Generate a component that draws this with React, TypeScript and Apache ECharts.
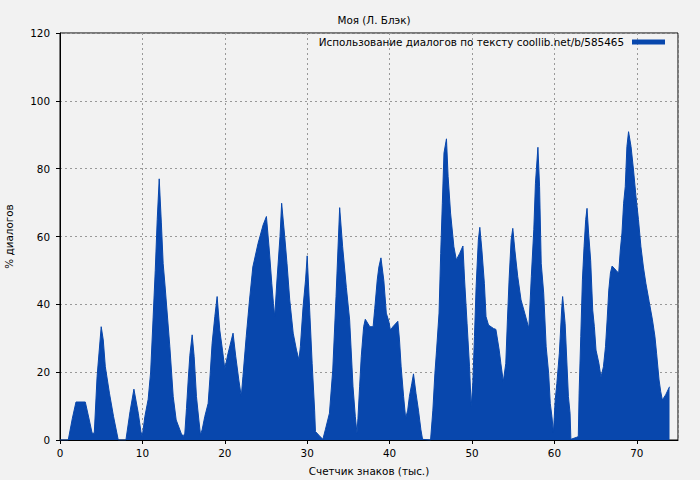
import React, { useEffect, useRef } from "react";
import * as echarts from "echarts";

const titleText = "Моя (Л. Блэк)";
const seriesName = "Использование диалогов по тексту coollib.net/b/585465";
const xAxisName = "Счетчик знаков (тыс.)";
const yAxisName = "% диалогов";

const xs = [
  0, 1.0, 1.5, 1.94, 3.07, 3.5, 3.9, 4.16, 4.5, 5.0, 5.25, 5.5, 6.0, 6.5, 7.07, 8.0, 8.5, 8.97, 9.5, 9.82,
  9.98, 10.3, 10.7, 11.0, 11.3, 11.56, 11.8, 12.04, 12.3, 12.52, 12.73, 13.33, 13.74, 14.1, 14.7, 14.95,
  15.15, 15.35, 15.56, 15.76, 16.04, 16.28, 16.56, 16.85, 17.05, 17.25, 17.57, 17.98, 18.18, 18.46, 18.79,
  19.07, 19.39, 19.72, 20.0, 20.4, 21.0, 21.33, 21.7, 22.0, 22.2, 22.6, 23.0, 23.4, 24.04, 24.65, 25.05,
  25.4, 25.7, 25.9, 26.06, 26.3, 26.7, 26.9, 27.27, 27.55, 27.88, 28.3, 28.7, 29.0, 29.17, 29.5, 29.8, 30.0,
  30.3, 30.6, 30.9, 31.0, 31.5, 31.9, 32.2, 32.7, 33.1, 33.5, 33.94, 34.3, 34.75, 35.15, 35.56, 35.84,
  36.04, 36.16, 36.36, 36.56, 36.85, 37.05, 37.6, 38.0, 38.2, 38.5, 38.7, 38.95, 39.3, 39.6, 39.9, 40.1,
  40.4, 41.0, 41.2, 41.4, 41.7, 41.95, 42.2, 42.4, 42.7, 42.9, 43.2, 43.5, 43.8, 44.0, 44.97, 45.25, 45.5,
  45.7, 46.0, 46.2, 46.4, 46.6, 46.9, 47.1, 47.4, 47.8, 48.1, 48.5, 48.9, 49.1, 49.4, 49.7, 49.9, 50.1,
  50.3, 50.5, 50.77, 50.95, 51.2, 51.5, 51.7, 52.0, 52.6, 52.9, 53.3, 53.5, 53.8, 54.1, 54.3, 54.5, 54.75,
  54.95, 55.2, 55.55, 55.95, 56.4, 56.9, 57.2, 57.5, 57.7, 58.0, 58.2, 58.4, 58.7, 59.0, 59.3, 59.5, 59.7,
  59.88, 60.1, 60.3, 60.6, 60.9, 61.0, 61.3, 61.5, 61.7, 61.9, 62.0, 62.7, 62.9, 63.0, 63.2, 63.4, 63.6,
  63.8, 63.96, 64.15, 64.4, 64.65, 64.85, 65.05, 65.4, 65.65, 65.95, 66.2, 66.4, 66.6, 66.8, 67.0, 67.5,
  67.8, 68.0, 68.2, 68.4, 68.6, 68.8, 69.0, 69.3, 69.6, 69.9, 70.2, 70.5, 70.8, 71.1, 71.5, 71.9, 72.2,
  72.4, 72.7, 72.9, 73.1, 73.5, 73.97,
];

const ys = [
  0, 0, 6.4, 11.2, 11.2, 6.5, 2, 2, 18.7, 33.4, 29.5, 21.6, 13.8, 6.9, 0, 0, 8.4, 15, 7.9, 2.5,
  1, 6.9, 12, 20, 36, 50, 65, 77, 64, 52, 46, 27.5, 12.8, 5.9, 2, 1,
  2, 9.3, 17.7, 25, 31, 24.6, 12.8, 5.9, 1.5, 3, 6.9, 10.8, 17.7, 28.5, 36.4,
  42.3, 32.4, 26.5, 21, 25.6, 31.5, 24.6, 17.7, 12.8, 18.7, 30.5, 41.3, 51, 58, 63.4, 65.9,
  56, 46.2, 40.3, 36.4, 46, 60, 69.8, 60, 52, 41.3, 31.5, 26.5, 23.6, 27.5, 39.3, 47.2, 54.3,
  38.3, 22.6, 8.8, 2.5, 1.2, 0.2, 3, 7.9, 20.6, 42.3, 68.5, 57, 45, 35.4, 15.7, 6.9,
  2, 6.4, 15.7, 24.6, 33.4, 35.6, 33.4, 33.4, 38.8, 47.2, 51, 53.7, 47, 37.4, 35, 32.4,
  33.4, 35, 29.5, 21.6, 12.8, 6.4, 8.8, 12.8, 16.7, 19.5, 13.8, 8.8, 3, 0.2, 0, 8.8, 19.7,
  26.5, 37.4, 55, 69.8, 84.6, 88.8, 77.7, 66.9, 57, 53.1, 55, 57.2, 47.2, 34.4, 21.6, 9.8, 16.7,
  30.5, 45.2, 59, 62.7, 56, 46.2, 36.4, 33.9, 32.9, 32.6, 26.5, 22.6, 17.2, 22.6, 35.4, 47.2, 59,
  62.4, 56, 48.2, 41.3, 37.4, 32.9, 48.2, 62, 75.7, 86.3, 74.7, 52.1, 43.3, 27.5, 19.7, 10.8, 6.9,
  2.2, 11.8, 16.7, 25.6, 39.3, 42.3, 34.4, 23.6, 12.8, 7.9, 0.2, 0.8, 1, 13.8, 30.5, 47.2, 57,
  65, 68.3, 61, 53, 38.3, 33.4, 26.5, 22.6, 18.5, 21.6, 27.5, 35.4, 44.2, 49.2, 51.3, 50,
  49.2, 56, 61, 69.8, 74.7, 86.5, 90.9, 86.5, 79.6, 71.8, 65, 57, 51, 46.2, 40.8, 35.4, 30.5,
  25.6, 17.7, 14.3, 11.8, 13.3, 15.7,
];

const xMin = 0;
const xMax = 75;
const xInterval = 10;
const yMin = 0;
const yMax = 120;
const yInterval = 20;

const FONT = "DejaVu Sans";
const FS = 10.4;
const BLUE = "#0847ad";

export default function App() {
  const ref = useRef<HTMLDivElement>(null);
  useEffect(() => {
    if (!ref.current) return;
    const chart = echarts.init(ref.current, null, { renderer: "svg" });
    const data = xs.map((x, i) => [x, ys[i]]);
    const splitLine = {
      show: true,
      lineStyle: { color: "#999999", type: [2, 3] as any, width: 1 },
    };
    chart.setOption({
      animation: false,
      backgroundColor: "#f2f2f2",
      textStyle: { fontFamily: FONT },
      title: {
        text: titleText,
        left: 369,
        top: 10,
        textAlign: "center",
        textStyle: { fontFamily: FONT, fontSize: FS, fontWeight: "normal", color: "#000" },
      },
      legend: {
        show: true,
        right: 35,
        top: 37,
        align: "right",
        icon: "rect",
        itemWidth: 33,
        itemHeight: 5,
        itemGap: 8,
        padding: 0,
        textStyle: { fontFamily: FONT, fontSize: FS, color: "#000", padding: [0, 3, 0, 0] },
        data: [{ name: seriesName, itemStyle: { color: BLUE } }],
      },
      grid: {
        left: 60,
        right: 22,
        top: 33,
        bottom: 40,
        outerBoundsMode: "none",
        containLabel: false,
        show: true,
        borderColor: "#000",
        borderWidth: 1,
        backgroundColor: "transparent",
      },
      xAxis: {
        type: "value",
        min: xMin,
        max: xMax,
        interval: xInterval,
        name: xAxisName,
        nameLocation: "middle",
        nameGap: 26,
        nameTextStyle: { fontFamily: FONT, fontSize: FS, color: "#000" },
        axisLine: { show: true, lineStyle: { color: "#000", width: 1 } },
        axisTick: { show: true, inside: false, length: 4, lineStyle: { color: "#000" } },
        axisLabel: {
          fontFamily: FONT,
          fontSize: FS,
          color: "#000",
          margin: 8,
          showMaxLabel: false,
        },
        splitLine,
      },
      yAxis: {
        type: "value",
        min: yMin,
        max: yMax,
        interval: yInterval,
        name: yAxisName,
        nameLocation: "middle",
        nameGap: 46,
        nameRotate: 90,
        nameTextStyle: { fontFamily: FONT, fontSize: FS, color: "#000" },
        axisLine: { show: true, lineStyle: { color: "#000", width: 1 } },
        axisTick: { show: true, inside: false, length: 4, lineStyle: { color: "#000" } },
        axisLabel: { fontFamily: FONT, fontSize: FS, color: "#000", margin: 10 },
        splitLine,
      },
      series: [
        {
          name: seriesName,
          type: "line",
          data,
          showSymbol: false,
          symbol: "none",
          lineStyle: { color: BLUE, width: 1 },
          itemStyle: { color: BLUE },
          areaStyle: { color: BLUE, opacity: 1 },
          z: 1,
        },
      ],
    });
    return () => chart.dispose();
  }, []);
  return (
    <div
      ref={ref}
      style={{ position: "fixed", left: 0, top: 0, width: 700, height: 480 }}
    />
  );
}
